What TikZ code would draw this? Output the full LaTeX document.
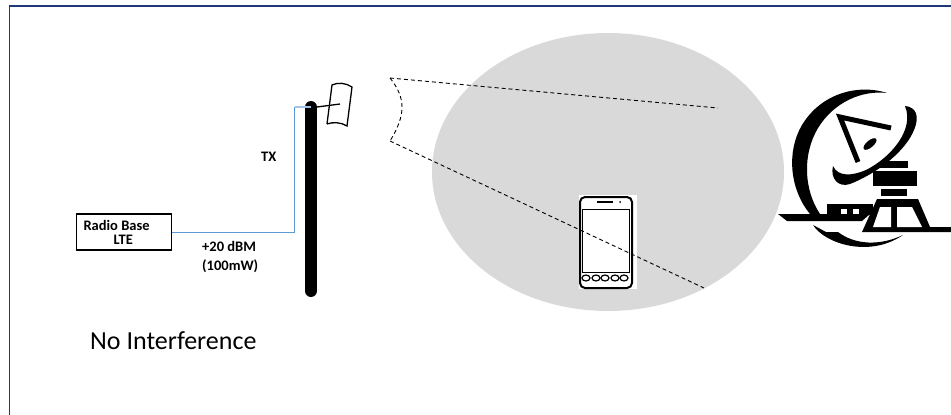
\documentclass[tikz,border=0pt]{standalone}
\usepackage{fontspec}
\setmainfont{Carlito}
\usetikzlibrary{shapes.geometric, positioning, calc}
\definecolor{FrameLine}{RGB}{31,56,120}
\definecolor{FeedLine}{RGB}{91,155,213}
\definecolor{FeedLight}{RGB}{165,195,230}
\definecolor{CellFill}{RGB}{217,217,217}
\begin{document}
\begin{tikzpicture}[x=1pt, y=-1pt,
    radiobox/.style={
        rectangle, draw=black, line width=1.2pt, fill=white,
        minimum width=95pt, minimum height=36pt, inner ysep=0pt, inner xsep=7pt,
        font=\bfseries\fontsize{14.5}{14}\selectfont, align=left
    },
    lbl/.style={font=\bfseries\fontsize{14.5}{19}\selectfont, align=left, inner sep=0pt},
    beam/.style={dash pattern=on 4pt off 3pt, line width=0.9pt, black},
    feed/.style={FeedLine, line width=0.9pt},
    antline/.style={black, line width=1.3pt}
]
\useasboundingbox (0,0) rectangle (951,415);
\fill[white] (0,0) rectangle (951,415);

% frame
\draw[FrameLine, line width=1.6pt] (951,6) -- (9.5,6) -- (9.5,415);

% coverage area
\node[ellipse, fill=CellFill, minimum width=352pt, minimum height=278pt, inner sep=0pt] (cell) at (608,172) {};

% ===================================================================
% RADIO BASE + FEED
% ===================================================================
\node[radiobox] (radio) at (124,232)
    {\makebox[81pt][l]{Radio Base}\\\makebox[81pt][l]{\hspace*{30pt}LTE}};
\draw[line width=12pt, line cap=round, black] (311,107) -- (311,291);
\coordinate (feedcorner) at (294.5,107);
\coordinate (feedtop) at (311,107);
\draw[feed] (radio.east) -| (feedcorner);
\draw[FeedLight, line width=1.5pt] (feedcorner) -- (feedtop);
\node[lbl, anchor=west] (tx) at (261,157) {TX};
\node[lbl, anchor=north west] (power) at (202,241) {+20 dBM\\(100mW)};
\node[font=\fontsize{26}{30}\selectfont, anchor=west, inner sep=0pt] (result) at (90,341) {No Interference};

% ===================================================================
% ANTENNA
% ===================================================================
\draw[antline] (317,107) -- (340,104);
\draw[antline] (327,124) -- (332,85) .. controls (338,82) and (346,83) .. (352,87)
    -- (347,126) .. controls (341,122) and (332,122) .. (327,124);

% ===================================================================
% PHONE
% ===================================================================
\node[fill=white, minimum width=58pt, minimum height=94pt, inner sep=0pt] (phone) at (608,242) {};
\draw[black, line width=2pt, rounded corners=5pt] (580,197) -- (632,197) -- (632,288) -- (580,288) -- cycle;
\draw[black, line width=1pt] (582.5,209) rectangle (629,272);
\draw[black, line width=1.5pt] (597,202) -- (613,202);
\fill[black] (620,202) circle (1pt);
\foreach \bx in {586,596,605,615,624}
    \draw[black, line width=1.2pt] (\bx,278) ellipse (4pt and 3pt);

% ===================================================================
% BEAM
% ===================================================================
\coordinate (beamtop) at (390,78);
\coordinate (beambot) at (390,141);
\coordinate (beamfar) at (718,108);
\coordinate (beamlow) at (704,288);
\draw[beam] (beamtop) -- (beamfar);
\draw[beam] (beambot) -- (beamlow);
\draw[beam] (beamtop) .. controls (406,98) and (406,115) .. (beambot);

% ===================================================================
% SATELLITE DISH
% ===================================================================
\fill[black] (887,93) .. controls (860,84) and (822,92) .. (802,125)
    .. controls (786,152) and (790,190) .. (810,214) -- (820,214)
    .. controls (804,190) and (802,155) .. (818,128)
    .. controls (834,102) and (862,90) .. (887,93) -- cycle;
\fill[black] (905,106) .. controls (916,107) and (920,116) .. (914,130)
    .. controls (906,150) and (880,172) .. (850,184)
    .. controls (838,188) and (830,178) .. (833,166)
    .. controls (838,177) and (852,176) .. (866,170)
    .. controls (890,158) and (915,130) .. (905,106) -- cycle;
\draw[black, line width=5pt, miter limit=6] (891,128) -- (840,117) -- (858,162);
\fill[black, rotate around={40:(870,144)}] (870,144) ellipse (8pt and 3.5pt);
\fill[black] (880,161) rectangle (908,168);
\fill[black] (873,171) rectangle (917,186);
\fill[black] (881,189) rectangle (907,196);
\fill[black] (827,204) rectangle (873,215);
\fill[white] (841,209) rectangle (847,215);
\fill[white] (853,209) rectangle (859,215);
\fill[black] (778,214) -- (870,214) -- (862,221) -- (787,221) -- cycle;
\fill[black] (877,199) -- (918,199) -- (930,227) -- (951,227) -- (951,232) -- (862,232) -- cycle;
\fill[white] (880,207) -- (891,207) -- (891,227) -- (873,227) -- cycle;
\fill[white] (897,207) -- (912,207) -- (922,227) -- (897,227) -- cycle;
\fill[black] (813,225) .. controls (825,244) and (870,258) .. (903,235)
    .. controls (880,246) and (855,245) .. (838,232) -- (826,232) -- cycle;
\end{tikzpicture}
\end{document}
